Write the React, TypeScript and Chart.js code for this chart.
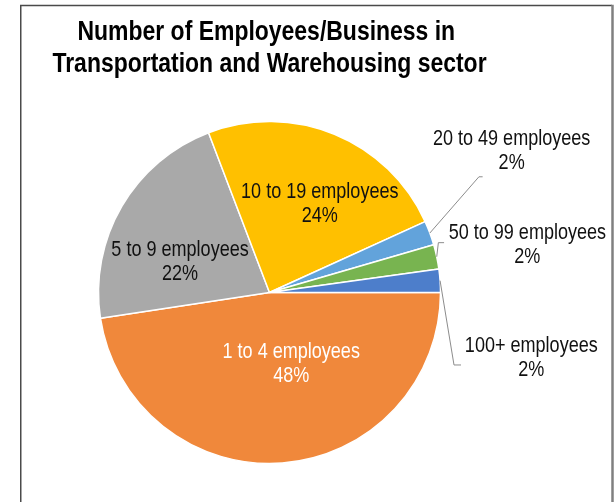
import React, { useEffect, useRef } from "react";
import { Chart, registerables } from "chart.js";

Chart.register(...registerables);

// ---- data ----
const TITLE_LINES = ["Number of Employees/Business in ", "Transportation and Warehousing sector"];
const CATEGORIES = [
  "1 to 4 employees",
  "5 to 9 employees",
  "10 to 19 employees",
  "20 to 49 employees",
  "50 to 99 employees",
  "100+ employees",
];
const SHARES = [47.6, 21.6, 24.0, 2.3, 2.3, 2.2];

// ---- styles ----
const COLORS = ["#F0883B", "#A9A9A9", "#FFC000", "#62A3DB", "#78B450", "#4D7ECB"];
const LABEL_COLORS = ["#FFFFFF", "#111111", "#111111", "#111111", "#111111", "#111111"];
// label centre offsets from pie centre (in radius units); leader offsets in px from label centre
const PLACEMENTS: { dx: number; dy: number; leader?: { ex: number; ey: number; hx: number } }[] = [
  { dx: 0.127, dy: 0.415 },
  { dx: -0.523, dy: -0.18 },
  { dx: 0.294, dy: -0.515 },
  { dx: 1.416, dy: -0.827, leader: { ex: -32.7, ey: 25.7, hx: 3.7 } },
  { dx: 1.508, dy: -0.278, leader: { ex: -89, ey: -2.3, hx: 5.7 } },
  { dx: 1.531, dy: 0.38, leader: { ex: -77.3, ey: 7.5, hx: 7 } },
];
const LABEL_LINE_GAP = 24;
const NARROW_RATIO = 0.82;

function narrowAvailable(ctx: CanvasRenderingContext2D) {
  ctx.save();
  ctx.font = "22px monospace";
  const a = ctx.measureText("mmmmwwwiiiEEE").width;
  ctx.font = "22px 'Liberation Sans Narrow', monospace";
  const b = ctx.measureText("mmmmwwwiiiEEE").width;
  ctx.restore();
  return Math.abs(a - b) > 0.5;
}

// draws text in a narrow face: real narrow font if installed, else horizontally condensed Liberation Sans
function fillNarrow(
  ctx: CanvasRenderingContext2D,
  text: string,
  x: number,
  y: number,
  size: number,
  weight: string,
  narrow: boolean
) {
  ctx.save();
  ctx.translate(x, y);
  if (narrow) {
    ctx.font = `${weight} ${size}px 'Liberation Sans Narrow', 'Arial Narrow', sans-serif`;
  } else {
    ctx.font = `${weight} ${size}px 'Liberation Sans', Arial, sans-serif`;
    ctx.scale(NARROW_RATIO, 1);
  }
  ctx.fillText(text, 0, 0);
  ctx.restore();
}

const framePlugin = {
  id: "frame",
  beforeDraw(chart: any) {
    const ctx = chart.ctx as CanvasRenderingContext2D;
    ctx.save();
    ctx.fillStyle = "#FFFFFF";
    ctx.fillRect(0, 0, chart.width, chart.height);
    ctx.strokeStyle = "#4A4A4A";
    ctx.lineWidth = 1.5;
    ctx.beginPath();
    ctx.moveTo(20.75, chart.height + 2);
    ctx.lineTo(20.75, 5.5);
    ctx.lineTo(612, 5.5);
    ctx.stroke();
    ctx.strokeStyle = "#808080";
    ctx.lineWidth = 2.5;
    ctx.beginPath();
    ctx.moveTo(612.5, 4.75);
    ctx.lineTo(612.5, chart.height + 2);
    ctx.stroke();
    ctx.restore();
  },
  afterDraw(chart: any) {
    const ctx = chart.ctx as CanvasRenderingContext2D;
    const narrow = narrowAvailable(ctx);
    const area = chart.chartArea;
    const cx = (area.left + area.right) / 2;
    ctx.save();
    ctx.fillStyle = "#000000";
    ctx.textAlign = "center";
    ctx.textBaseline = "middle";
    TITLE_LINES.forEach((line, i) => {
      fillNarrow(ctx, line, cx, 32 + i * 32.3, 28, "bold", narrow);
    });
    ctx.restore();
  },
};

const labelPlugin = {
  id: "pieLabels",
  afterDatasetsDraw(chart: any) {
    const ctx = chart.ctx as CanvasRenderingContext2D;
    const meta = chart.getDatasetMeta(0);
    const values: number[] = chart.data.datasets[0].data;
    const total = values.reduce((s, v) => s + v, 0);
    const narrow = narrowAvailable(ctx);
    meta.data.forEach((arc: any, i: number) => {
      const { x, y, startAngle, endAngle, outerRadius } = arc.getProps(
        ["x", "y", "startAngle", "endAngle", "outerRadius"],
        true
      );
      const mid = (startAngle + endAngle) / 2;
      const p = PLACEMENTS[i];
      const cx = x + p.dx * outerRadius;
      const cy = y + p.dy * outerRadius;
      if (p.leader) {
        ctx.save();
        ctx.strokeStyle = "#8C8C8C";
        ctx.lineWidth = 1;
        ctx.beginPath();
        ctx.moveTo(x + Math.cos(mid) * outerRadius, y + Math.sin(mid) * outerRadius);
        ctx.lineTo(cx + p.leader.ex, cy + p.leader.ey);
        ctx.lineTo(cx + p.leader.ex + p.leader.hx, cy + p.leader.ey);
        ctx.stroke();
        ctx.restore();
      }
      const pct = Math.round((values[i] / total) * 100) + "%";
      const lines = [chart.data.labels[i], pct];
      ctx.save();
      ctx.fillStyle = LABEL_COLORS[i];
      ctx.textAlign = "center";
      ctx.textBaseline = "middle";
      fillNarrow(ctx, lines[0], cx, cy - LABEL_LINE_GAP / 2, 22, "normal", narrow);
      fillNarrow(ctx, lines[1], cx, cy + LABEL_LINE_GAP / 2, 22, "normal", narrow);
      ctx.restore();
    });
  },
};

export default function App() {
  const canvasRef = useRef<HTMLCanvasElement | null>(null);

  useEffect(() => {
    if (!canvasRef.current) return;
    const chart = new Chart(canvasRef.current, {
      type: "pie",
      data: {
        labels: CATEGORIES,
        datasets: [
          {
            data: SHARES,
            backgroundColor: COLORS,
            borderColor: "#FFFFFF",
            borderWidth: 1.5,
            radius: 171,
          } as any,
        ],
      },
      options: {
        animation: false,
        responsive: true,
        maintainAspectRatio: false,
        rotation: 90,
        events: [],
        layout: { padding: { left: 60, right: 137, top: 110, bottom: 27 } },
        plugins: {
          legend: { display: false },
          tooltip: { enabled: false },
          title: { display: false },
        },
      } as any,
      plugins: [framePlugin, labelPlugin],
    });
    return () => chart.destroy();
  }, []);

  return (
    <div
      style={{
        position: "fixed",
        left: 0,
        top: 0,
        width: 616,
        height: 502,
        background: "#FFFFFF",
      }}
    >
      <canvas ref={canvasRef} />
    </div>
  );
}
